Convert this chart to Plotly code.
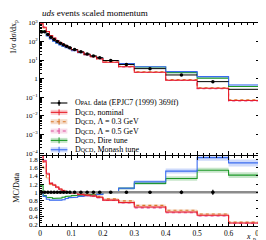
import plotly.graph_objects as go

# ---- data ----
edges = [0.0, 0.01, 0.02, 0.03, 0.04, 0.05, 0.06, 0.07, 0.08, 0.09, 0.10,
         0.12, 0.14, 0.16, 0.18, 0.20, 0.25, 0.30, 0.40, 0.50, 0.60, 0.80]
data_x = [0.005, 0.015, 0.025, 0.035, 0.045, 0.055, 0.065, 0.075, 0.085, 0.095,
          0.11, 0.13, 0.15, 0.17, 0.19, 0.225, 0.275, 0.35, 0.45, 0.55, 0.70]
data_y = [330, 340, 240, 172, 130, 102, 82, 67, 56, 47,
          37, 28, 21.5, 17, 13.5, 9.6, 5.9, 3.5, 1.6, 0.70, 0.27]
data_err = [6, 6, 4, 3, 2.2, 1.7, 1.4, 1.1, 0.95, 0.8,
            0.65, 0.5, 0.4, 0.33, 0.28, 0.2, 0.14, 0.1, 0.07, 0.045, 0.025]

# MC / data ratios
ratio_nominal = [3.0, 1.75, 1.45, 1.22, 1.18, 1.13, 1.08, 1.04, 1.01, 1.0,
                 0.98, 0.95, 0.93, 0.91, 0.88, 0.81, 0.75, 0.64, 0.52, 0.44, 0.25]
ratio_lam03 = [2.6, 1.6, 1.35, 1.2, 1.17, 1.12, 1.07, 1.04, 1.01, 1.0,
               0.99, 0.96, 0.94, 0.93, 0.9, 0.84, 0.79, 0.68, 0.56, 0.47, 0.27]
ratio_lam05 = [3.0, 1.78, 1.47, 1.23, 1.19, 1.12, 1.07, 1.04, 1.01, 0.99,
               0.97, 0.94, 0.92, 0.9, 0.87, 0.8, 0.74, 0.62, 0.5, 0.42, 0.24]
ratio_dire = [1.16, 0.92, 0.88, 0.87, 0.85, 0.85, 0.86, 0.88, 0.9, 0.91,
              0.92, 0.93, 0.94, 0.95, 0.96, 1.0, 1.1, 1.22, 1.34, 1.54, 1.42]
ratio_monash = [1.0, 0.9, 0.83, 0.81, 0.8, 0.8, 0.81, 0.82, 0.85, 0.87,
                0.88, 0.9, 0.92, 0.93, 0.95, 1.0, 1.1, 1.26, 1.52, 1.85, 1.72]
mc_relunc = [0.02, 0.02, 0.02, 0.02, 0.02, 0.02, 0.02, 0.02, 0.02, 0.02,
             0.02, 0.02, 0.025, 0.025, 0.025, 0.025, 0.03, 0.03, 0.04, 0.04, 0.05]

series_names = ["nominal", "Λ = 0.3 GeV", "Λ = 0.5 GeV", "Dire tune", "Monash tune"]
series_ratios = [ratio_nominal, ratio_lam03, ratio_lam05, ratio_dire, ratio_monash]
colors = ["#e8202a", "#d9782a", "#dd4f9c", "#1f9a2a", "#3b6cf0"]
bands = ["rgba(232,32,42,0.22)", "rgba(217,120,42,0.25)", "rgba(221,79,156,0.2)",
         "rgba(31,154,42,0.25)", "rgba(59,108,240,0.25)"]
dashes = ["solid", "dot", "dot", "solid", "solid"]

FONT = "Liberation Serif"


def step(vals):
    xs, ys = [], []
    for i, v in enumerate(vals):
        xs += [edges[i], edges[i + 1]]
        ys += [v, v]
    return xs, ys


fig = go.Figure()


def add_series(vals, relunc, color, band, dash, xa, ya):
    lo = [v * (1 - u) for v, u in zip(vals, relunc)]
    up = [v * (1 + u) for v, u in zip(vals, relunc)]
    lx, ly = step(lo)
    ux, uy = step(up)
    fig.add_trace(go.Scatter(x=lx, y=ly, mode="lines", line=dict(width=0, color=band),
                             xaxis=xa, yaxis=ya, hoverinfo="skip"))
    fig.add_trace(go.Scatter(x=ux, y=uy, mode="lines", fill="tonexty", fillcolor=band,
                             line=dict(width=0, color=band), xaxis=xa, yaxis=ya, hoverinfo="skip"))
    sx, sy = step(vals)
    fig.add_trace(go.Scatter(x=sx, y=sy, mode="lines",
                             line=dict(color=color, width=1.1, dash=dash),
                             xaxis=xa, yaxis=ya))


order = [3, 4, 1, 2, 0]
for k in order:
    r = series_ratios[k]
    mc = [d * q for d, q in zip(data_y, r)]
    add_series(mc, mc_relunc, colors[k], bands[k], dashes[k], "x", "y")
    add_series(r, mc_relunc, colors[k], bands[k], dashes[k], "x2", "y2")

# data (main)
xerr_plus = [edges[i + 1] - data_x[i] for i in range(len(data_x))]
xerr_minus = [data_x[i] - edges[i] for i in range(len(data_x))]
fig.add_trace(go.Scatter(x=data_x, y=data_y, mode="markers",
                         marker=dict(color="black", size=3.5),
                         error_y=dict(type="data", array=data_err, color="black", thickness=1, width=0),
                         error_x=dict(type="data", array=xerr_plus, arrayminus=xerr_minus,
                                      color="black", thickness=1, width=0),
                         xaxis="x", yaxis="y"))

# data reference in ratio
fig.add_trace(go.Scatter(x=[edges[0], edges[-1]], y=[1, 1], mode="lines",
                         line=dict(color="#8c8c8c", width=2.5), xaxis="x2", yaxis="y2"))
fig.add_trace(go.Scatter(x=data_x, y=[1] * len(data_x), mode="markers",
                         marker=dict(color="black", size=3.5),
                         error_y=dict(type="data", array=[e / d for e, d in zip(data_err, data_y)],
                                      color="black", thickness=1, width=0),
                         xaxis="x2", yaxis="y2"))

# axes
xt = [0, 0.1, 0.2, 0.3, 0.4, 0.5, 0.6, 0.7]
xtt = ["0", "0.1", "0.2", "0.3", "0.4", "0.5", "0.6", "0.7"]
common_x = dict(range=[0, 0.7], showgrid=False, zeroline=False, showline=True, linecolor="black",
                linewidth=0.8, mirror="allticks", ticks="inside", ticklen=4, tickwidth=0.7,
                tickcolor="black", tickmode="array", tickvals=xt, ticktext=xtt,
                minor=dict(ticks="inside", ticklen=2, tickwidth=0.6, tickcolor="black", dtick=0.02, showgrid=False))

ytv = [1e-4, 1e-3, 1e-2, 1e-1, 1, 10, 100, 1000]
ytt = ["10<sup>−4</sup>", "10<sup>−3</sup>", "10<sup>−2</sup>", "10<sup>−1</sup>", "1",
       "10<sup>1</sup>", "10<sup>2</sup>", "10<sup>3</sup>"]
yminor = [m * 10 ** p for p in range(-4, 3) for m in range(2, 10)]

rtv = [0.2, 0.4, 0.6, 0.8, 1.0, 1.2, 1.4, 1.6, 1.8]
rtt = ["0.2", "0.4", "0.6", "0.8", "1", "1.2", "1.4", "1.6", "1.8"]
rminor = [0.2 + 0.05 * i for i in range(34) if i % 4 != 0]

fig.update_layout(
    width=266, height=240,
    margin=dict(l=32, r=9, t=15, b=22),
    paper_bgcolor="white", plot_bgcolor="white",
    showlegend=False,
    font=dict(family=FONT, size=7.5, color="black"),
    xaxis=dict(domain=[0, 1], anchor="y", showticklabels=False, **common_x),
    xaxis2=dict(domain=[0, 1], anchor="y2", showticklabels=True, tickfont=dict(size=7.5), **common_x),
    yaxis=dict(type="log", domain=[0.35, 1], range=[-4.1, 3.0], anchor="x",
               showgrid=False, zeroline=False, showline=True, linecolor="black", linewidth=0.8,
               mirror="allticks", ticks="inside", ticklen=4, tickwidth=0.7, tickcolor="black",
               tickmode="array", tickvals=ytv, ticktext=ytt, tickfont=dict(size=7),
               minor=dict(ticks="inside", ticklen=2, tickwidth=0.6, tickcolor="black",
                          tickmode="array", tickvals=yminor, showgrid=False)),
    yaxis2=dict(domain=[0, 0.345], range=[0.176, 1.89], anchor="x2",
                showgrid=False, zeroline=False, showline=True, linecolor="black", linewidth=0.8,
                mirror="allticks", ticks="inside", ticklen=4, tickwidth=0.7, tickcolor="black",
                tickmode="array", tickvals=rtv, ticktext=rtt, tickfont=dict(size=7),
                minor=dict(ticks="inside", ticklen=2, tickwidth=0.6, tickcolor="black",
                           tickmode="array", tickvals=rminor, showgrid=False)),
)


# legend / label helpers (pixel -> paper)
def px2py(ypx):
    return (218 - ypx) / 203.0


def px2px(xpx):
    return (xpx - 32) / 225.0


# ---- text ----
ann = []
ann.append(dict(text="<i>uds</i> events scaled momentum", x=0, y=1.05, xref="paper", yref="paper",
                xanchor="left", yanchor="middle", showarrow=False, font=dict(size=9)))
ann.append(dict(text="1/σ dσ/dx<sub>p</sub>", x=-0.118, y=1.025, xref="paper", yref="paper",
                xanchor="center", yanchor="top", textangle=-90, showarrow=False, font=dict(size=8)))
ann.append(dict(text="MC/Data", x=-0.108, y=0.19, xref="paper", yref="paper",
                xanchor="center", yanchor="middle", textangle=-90, showarrow=False, font=dict(size=8)))
ann.append(dict(text="<i>x</i>", x=px2px(249), y=px2py(228), xref="paper", yref="paper",
                xanchor="right", yanchor="middle", showarrow=False, font=dict(size=8), borderpad=0))
ann.append(dict(text="p", x=px2px(248.5), y=px2py(230.5), xref="paper", yref="paper",
                xanchor="left", yanchor="middle", showarrow=False, font=dict(size=6), borderpad=0))

sc = lambda s: "<span style='font-size:6px'>" + s + "</span>"
leg_texts = ["O" + sc("PAL") + " data (EPJC7 (1999) 369ff)"] + \
            ["D" + sc("QCD") + ", " + n for n in series_names]
shapes = []
x0, x1, xc = px2px(43), px2px(60), px2px(51.5)
for i, t in enumerate(leg_texts):
    ypx = 95 + 9.35 * i
    yp = px2py(ypx)
    ann.append(dict(text=t, x=px2px(66), y=yp, xref="paper", yref="paper", xanchor="left",
                    yanchor="middle", showarrow=False, font=dict(size=8)))
    if i == 0:
        col, dash = "black", "solid"
    else:
        col, dash = colors[i - 1], dashes[i - 1]
        shapes.append(dict(type="rect", xref="paper", yref="paper", x0=x0, x1=x1,
                           y0=px2py(ypx + 2.5), y1=px2py(ypx - 2.5), fillcolor=bands[i - 1], line=dict(width=0)))
    shapes.append(dict(type="line", xref="paper", yref="paper", x0=x0, x1=x1, y0=yp, y1=yp,
                       line=dict(color=col, width=1.1, dash=dash)))
    shapes.append(dict(type="line", xref="paper", yref="paper", x0=xc, x1=xc,
                       y0=px2py(ypx + 3), y1=px2py(ypx - 3), line=dict(color=col, width=1)))
    if i == 0:
        shapes.append(dict(type="circle", xref="paper", yref="paper", x0=px2px(50), x1=px2px(53),
                           y0=px2py(ypx + 1.5), y1=px2py(ypx - 1.5), fillcolor="black", line=dict(width=0)))

fig.update_layout(annotations=ann, shapes=shapes)
fig.write_html("out.html")
